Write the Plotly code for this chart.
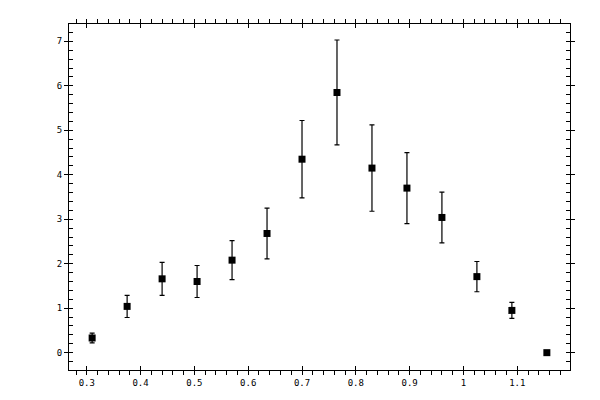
import plotly.graph_objects as go

# Data
x_vals = [0.31, 0.375, 0.44, 0.505, 0.57, 0.635, 0.70, 0.765, 0.83, 0.895, 0.96, 1.025, 1.09, 1.155]
y_vals = [0.33, 1.04, 1.66, 1.60, 2.08, 2.68, 4.35, 5.85, 4.15, 3.70, 3.04, 1.71, 0.95, 0.0]
y_err = [0.11, 0.25, 0.37, 0.36, 0.44, 0.57, 0.87, 1.18, 0.97, 0.80, 0.57, 0.34, 0.18, 0.0]

x_range = [0.267, 1.198]
y_range = [-0.39, 7.39]

tick_font = dict(family="DejaVu Sans Mono", size=9, color="black")

fig = go.Figure()

fig.add_trace(go.Scatter(
    x=x_vals, y=y_vals, mode="markers",
    marker=dict(symbol="square", size=7, color="black"),
    error_y=dict(type="data", array=y_err, visible=True,
                 color="black", thickness=1.2, width=2.5),
    showlegend=False,
))

# empty trace so the overlay axes get drawn (ticks on the other side of the line)
fig.add_trace(go.Scatter(x=[], y=[], xaxis="x2", yaxis="y2", showlegend=False))

# page body has an 8px margin, so the figure is shrunk by that much
fig.update_layout(
    width=592, height=392,
    margin=dict(l=61, r=30, t=11, b=30),
    paper_bgcolor="white", plot_bgcolor="white",
    xaxis=dict(range=x_range, dtick=0.1, tick0=0, ticks="outside", ticklen=4,
               tickcolor="black", showline=True, linecolor="black", linewidth=1,
               mirror="allticks", showgrid=False, zeroline=False, tickfont=tick_font,
               minor=dict(dtick=0.02, ticks="outside", ticklen=4, tickcolor="black",
                          showgrid=False)),
    yaxis=dict(range=y_range, dtick=1, tick0=0, ticks="outside", ticklen=4,
               tickcolor="black", showline=True, linecolor="black", linewidth=1,
               mirror="allticks", showgrid=False, zeroline=False, tickfont=tick_font,
               minor=dict(dtick=0.2, ticks="inside", ticklen=4, tickcolor="black",
                          showgrid=False)),
    xaxis2=dict(range=x_range, dtick=0.1, tick0=0, ticks="inside", ticklen=4,
                tickcolor="black", overlaying="x", mirror="allticks", showline=True,
                linecolor="black", showticklabels=False, showgrid=False, zeroline=False),
    yaxis2=dict(range=y_range, dtick=1, tick0=0, ticks="inside", ticklen=4,
                tickcolor="black", overlaying="y", mirror="allticks", showline=True,
                linecolor="black", showticklabels=False, showgrid=False, zeroline=False),
)

fig.write_html("out.html")
